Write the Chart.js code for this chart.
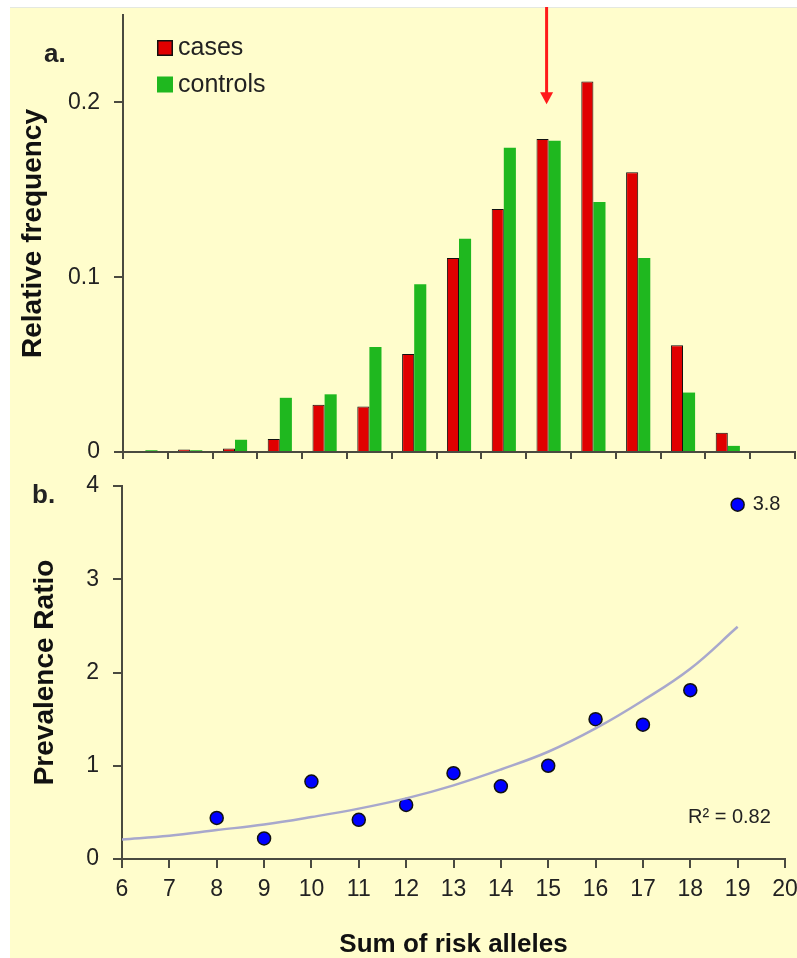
<!DOCTYPE html>
<html>
<head>
<meta charset="utf-8">
<title>Sum of risk alleles</title>
<script src="https://cdn.jsdelivr.net/npm/chart.js@4.4.1/dist/chart.umd.min.js"></script>
<style>
  html, body { margin: 0; padding: 0; background: #fff; }
  #page { position: relative; width: 797px; height: 958px; overflow: hidden; }
  #panel { position: absolute; left: 10px; top: 7px; width: 787px; height: 951px; background: #fffdcc; border-top: 1px solid #e4e8e0; }
  canvas { position: absolute; left: 0; }
  #freq-chart { top: 0; }
  #ratio-chart { top: 470px; }
</style>
</head>
<body>
<div id="page">
  <div id="panel"></div>
  <canvas id="freq-chart" width="797" height="470"></canvas>
  <canvas id="ratio-chart" width="797" height="488"></canvas>
</div>
<script>
// panel a: relative frequency per sum of risk alleles
const alleleBins = ["6", "7", "8", "9", "10", "11", "12", "13", "14", "15", "16", "17", "18", "19", "20"];
const casesFreq = [0, 0.0015, 0.002, 0.0075, 0.027, 0.026, 0.056, 0.111, 0.139, 0.179, 0.212, 0.160, 0.061, 0.011, 0];
const controlsFreq = [0.001, 0.001, 0.007, 0.031, 0.033, 0.060, 0.096, 0.122, 0.174, 0.178, 0.143, 0.111, 0.034, 0.0035, 0];
const freqTicks = [0, 0.1, 0.2];
const arrowBin = "15";
const arrowTipFreq = 0.199;

// panel b: prevalence ratio
const ratioAlleles = [8, 9, 10, 11, 12, 13, 14, 15, 16, 17, 18, 19];
const prevalenceRatio = [0.44, 0.22, 0.83, 0.42, 0.58, 0.92, 0.78, 1.0, 1.50, 1.44, 1.81, 3.8];
const trendAlleles = [6, 7, 8, 9, 10, 11, 12, 13, 14, 15, 16, 17, 18, 19];
const trendRatio = [0.21, 0.25, 0.31, 0.37, 0.45, 0.54, 0.65, 0.79, 0.96, 1.15, 1.40, 1.70, 2.04, 2.49];
const rSquared = 0.82;
const alleleTicks = [6, 7, 8, 9, 10, 11, 12, 13, 14, 15, 16, 17, 18, 19, 20];
const ratioTicks = [0, 1, 2, 3, 4];

const FONT = "'Liberation Sans', Arial, sans-serif";
const AXIS = "#4a4a40";
const TEXT = "#222";

Chart.defaults.color = TEXT;
Chart.defaults.font.family = FONT;

const axisGrid = { drawOnChartArea: false, drawTicks: true, tickLength: 9, color: AXIS, lineWidth: 2 };
const axisBorder = { color: AXIS, width: 2 };
const tickFont = { size: 23 };

// fixed scale sizes so the plot areas land where the original has them
const fixWidth = (w) => (scale) => {
  scale.width = w;
  scale.paddingTop = 0;
  scale.paddingBottom = 0;
};
const fixHeight = (h) => (scale) => {
  scale.height = h;
  scale.paddingLeft = 0;
  scale.paddingRight = 0;
};

const freqExtras = {
  id: "freqExtras",
  afterDatasetsDraw(chart) {
    const { ctx, scales: { x, y } } = chart;
    ctx.save();

    chart.data.datasets.forEach((ds, i) => {
      const top = 40 + i * 36.5;
      ctx.fillStyle = ds.backgroundColor;
      ctx.fillRect(157, top, 16, 16);
      if (ds.borderWidth) {
        ctx.lineWidth = 1.5;
        ctx.strokeStyle = ds.borderColor;
        ctx.strokeRect(157.75, top + 0.75, 14.5, 14.5);
      }
      ctx.fillStyle = TEXT;
      ctx.font = `25px ${FONT}`;
      ctx.textAlign = "left";
      ctx.textBaseline = "middle";
      ctx.fillText(ds.label, 178, top + 8.5);
    });

    ctx.font = `bold 26px ${FONT}`;
    ctx.textBaseline = "alphabetic";
    ctx.fillText("a.", 44, 62);

    // red arrow marking the bin
    const ax = x.getPixelForValue(alleleBins.indexOf(arrowBin)) - 2;
    const tip = y.getPixelForValue(arrowTipFreq);
    ctx.strokeStyle = "#ff1a1a";
    ctx.fillStyle = "#ff1a1a";
    ctx.lineWidth = 3;
    ctx.beginPath();
    ctx.moveTo(ax, 7);
    ctx.lineTo(ax, tip - 10);
    ctx.stroke();
    ctx.beginPath();
    ctx.moveTo(ax - 6.5, tip - 12);
    ctx.lineTo(ax + 6.5, tip - 12);
    ctx.lineTo(ax, tip);
    ctx.closePath();
    ctx.fill();

    ctx.restore();
  }
};

const ratioExtras = {
  id: "ratioExtras",
  afterDatasetsDraw(chart) {
    const { ctx, scales: { x, y } } = chart;
    const last = prevalenceRatio.length - 1;
    ctx.save();
    ctx.fillStyle = TEXT;
    ctx.textBaseline = "middle";
    ctx.textAlign = "left";
    ctx.font = `20px ${FONT}`;
    ctx.fillText(prevalenceRatio[last].toFixed(1),
      x.getPixelForValue(ratioAlleles[last]) + 15, y.getPixelForValue(prevalenceRatio[last]));
    ctx.fillText(`R² = ${rSquared.toFixed(2)}`, 688, 347);

    ctx.font = `bold 26px ${FONT}`;
    ctx.textBaseline = "alphabetic";
    ctx.fillText("b.", 32, 33);
    ctx.restore();
  }
};

new Chart(document.getElementById("freq-chart"), {
  type: "bar",
  data: {
    labels: alleleBins,
    datasets: [
      {
        label: "cases",
        data: casesFreq,
        backgroundColor: "#e00000",
        borderColor: "#111",
        borderWidth: 1
      },
      {
        label: "controls",
        data: controlsFreq,
        backgroundColor: "#1fb81f",
        borderWidth: 0
      }
    ]
  },
  options: {
    responsive: false,
    animation: false,
    devicePixelRatio: 1,
    layout: { padding: { top: 15, right: 2, left: 0, bottom: 0 } },
    datasets: { bar: { categoryPercentage: 0.54, barPercentage: 1 } },
    plugins: { legend: { display: false }, tooltip: { enabled: false } },
    scales: {
      x: {
        grid: { ...axisGrid, offset: true, tickLength: 7 },
        border: axisBorder,
        ticks: { display: false },
        afterFit: fixHeight(18)
      },
      y: {
        min: 0,
        max: 0.25,
        grid: axisGrid,
        border: axisBorder,
        ticks: { font: tickFont, padding: 14, callback: (v) => String(v) },
        afterBuildTicks: (scale) => {
          scale.ticks = freqTicks.map((value) => ({ value }));
        },
        title: {
          display: true,
          text: "Relative frequency",
          color: "#111",
          font: { size: 28, weight: "bold" },
          padding: { top: 16, bottom: 0 }
        },
        afterFit: fixWidth(123)
      }
    }
  },
  plugins: [freqExtras]
});

new Chart(document.getElementById("ratio-chart"), {
  type: "scatter",
  data: {
    datasets: [
      {
        type: "line",
        label: "trend",
        data: trendAlleles.map((a, i) => ({ x: a, y: trendRatio[i] })),
        borderColor: "#a8a8cc",
        borderWidth: 2.5,
        pointRadius: 0,
        tension: 0.4,
        fill: false
      },
      {
        label: "Prevalence Ratio",
        data: ratioAlleles.map((a, i) => ({ x: a, y: prevalenceRatio[i] })),
        pointRadius: 6.5,
        pointBackgroundColor: "#0000ff",
        pointBorderColor: "#111",
        pointBorderWidth: 1.5
      }
    ]
  },
  options: {
    responsive: false,
    animation: false,
    devicePixelRatio: 1,
    layout: { padding: { top: 16, right: 12, left: 0, bottom: 0 } },
    plugins: { legend: { display: false }, tooltip: { enabled: false } },
    scales: {
      x: {
        type: "linear",
        min: 6,
        max: 20,
        grid: axisGrid,
        border: axisBorder,
        ticks: { font: tickFont, padding: 8 },
        afterBuildTicks: (scale) => {
          scale.ticks = alleleTicks.map((value) => ({ value }));
        },
        title: {
          display: true,
          text: "Sum of risk alleles",
          color: "#111",
          font: { size: 26, weight: "bold", lineHeight: 1 },
          padding: { top: 0, bottom: 0 }
        },
        afterFit: fixHeight(99)
      },
      y: {
        min: 0,
        max: 4,
        grid: axisGrid,
        border: axisBorder,
        ticks: { font: tickFont, padding: 14 },
        afterBuildTicks: (scale) => {
          scale.ticks = ratioTicks.map((value) => ({ value }));
        },
        title: {
          display: true,
          text: "Prevalence Ratio",
          color: "#111",
          font: { size: 28, weight: "bold" },
          padding: { top: 28, bottom: 0 }
        },
        afterFit: fixWidth(122)
      }
    }
  },
  plugins: [ratioExtras]
});
</script>
</body>
</html>
